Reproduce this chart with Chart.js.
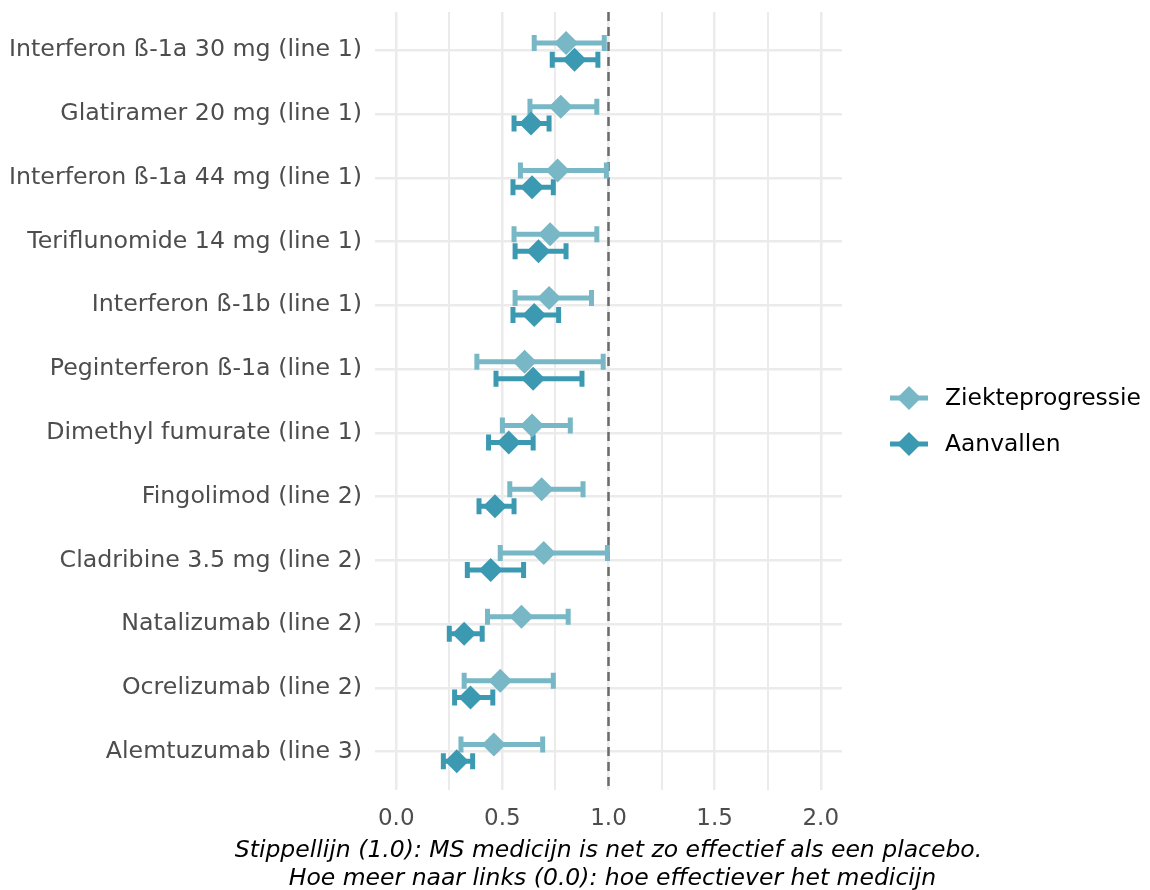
<!DOCTYPE html>
<html>
<head>
<meta charset="utf-8">
<script src="https://cdn.jsdelivr.net/npm/chart.js@4.4.1/dist/chart.umd.min.js"></script>
<style>
html, body { margin: 0; padding: 0; background: #fff; }
#wrap { width: 1150px; height: 890px; }
</style>
</head>
<body>
<div id="wrap"><canvas id="forestChart" width="1150" height="890"></canvas></div>
<script>
// medicines, top to bottom
var categories = [
    "Interferon ß-1a 30 mg (line 1)",
    "Glatiramer 20 mg (line 1)",
    "Interferon ß-1a 44 mg (line 1)",
    "Teriflunomide 14 mg (line 1)",
    "Interferon ß-1b (line 1)",
    "Peginterferon ß-1a (line 1)",
    "Dimethyl fumurate (line 1)",
    "Fingolimod (line 2)",
    "Cladribine 3.5 mg (line 2)",
    "Natalizumab (line 2)",
    "Ocrelizumab (line 2)",
    "Alemtuzumab (line 3)"
];

// Ziekteprogressie: estimate + interval
var ziekteMid  = [0.80, 0.775, 0.76, 0.725, 0.72, 0.605, 0.64, 0.685, 0.695, 0.59, 0.49, 0.46];
var ziekteLow  = [0.65, 0.63, 0.585, 0.555, 0.56, 0.38, 0.50, 0.535, 0.49, 0.43, 0.32, 0.305];
var ziekteHigh = [0.98, 0.945, 0.99, 0.945, 0.92, 0.975, 0.82, 0.88, 0.995, 0.81, 0.74, 0.69];

// Aanvallen: estimate + interval
var aanvalMid  = [0.84, 0.635, 0.64, 0.67, 0.65, 0.645, 0.53, 0.465, 0.445, 0.32, 0.35, 0.285];
var aanvalLow  = [0.735, 0.555, 0.55, 0.56, 0.55, 0.47, 0.435, 0.39, 0.335, 0.25, 0.275, 0.222];
var aanvalHigh = [0.95, 0.72, 0.74, 0.80, 0.765, 0.875, 0.645, 0.555, 0.60, 0.405, 0.455, 0.36];

var xTicks = [0, 0.25, 0.5, 0.75, 1, 1.25, 1.5, 1.75, 2];
var placeboLine = 1.0;
var seriesNames = ["Ziekteprogressie", "Aanvallen"];
var seriesColors = ["#78B7C5", "#3B9AB2"];
var captionLines = [
    "Stippellijn (1.0): MS medicijn is net zo effectief als een placebo.",
    "Hoe meer naar links (0.0): hoe effectiever het medicijn"
];

var FONT = "'DejaVu Sans', 'Liberation Sans', Arial, sans-serif";

function buildPoints(mid, low, high, shift) {
    var pts = [];
    for (var i = 0; i < mid.length; i++) {
        pts.push({ x: mid[i], y: i + 1 + shift, lo: low[i], hi: high[i] });
    }
    return pts;
}

// dashed placebo line + horizontal error bars, under the diamonds
var errorBars = {
    id: "errorBars",
    beforeDatasetsDraw: function (chart) {
        var ctx = chart.ctx;
        var xs = chart.scales.x;
        var ys = chart.scales.y;
        var area = chart.chartArea;

        ctx.save();
        ctx.strokeStyle = "#6b6b6b";
        ctx.lineWidth = 2.5;
        ctx.setLineDash([9, 6]);
        var px = xs.getPixelForValue(placeboLine);
        ctx.beginPath();
        ctx.moveTo(px, area.top);
        ctx.lineTo(px, area.bottom);
        ctx.stroke();
        ctx.restore();

        chart.data.datasets.forEach(function (ds) {
            ctx.save();
            ctx.strokeStyle = ds.backgroundColor;
            ctx.lineWidth = 5;
            ds.data.forEach(function (p) {
                var y = ys.getPixelForValue(p.y);
                var x1 = xs.getPixelForValue(p.lo);
                var x2 = xs.getPixelForValue(p.hi);
                ctx.beginPath();
                ctx.moveTo(x1, y);
                ctx.lineTo(x2, y);
                ctx.moveTo(x1, y - 8);
                ctx.lineTo(x1, y + 8);
                ctx.moveTo(x2, y - 8);
                ctx.lineTo(x2, y + 8);
                ctx.stroke();
            });
            ctx.restore();
        });
    }
};

// legend on the right (line with diamond) and the two-line caption under the axis
var extras = {
    id: "extras",
    afterDraw: function (chart) {
        var ctx = chart.ctx;
        var area = chart.chartArea;
        ctx.save();
        seriesNames.forEach(function (name, i) {
            var y = 398 + i * 46;
            ctx.strokeStyle = seriesColors[i];
            ctx.fillStyle = seriesColors[i];
            ctx.lineWidth = 5;
            ctx.beginPath();
            ctx.moveTo(890, y);
            ctx.lineTo(928, y);
            ctx.stroke();
            ctx.beginPath();
            ctx.moveTo(909 - 12, y);
            ctx.lineTo(909, y - 12);
            ctx.lineTo(909 + 12, y);
            ctx.lineTo(909, y + 12);
            ctx.closePath();
            ctx.fill();
            ctx.fillStyle = "#000";
            ctx.font = "23.4px " + FONT;
            ctx.textBaseline = "middle";
            ctx.textAlign = "left";
            ctx.fillText(name, 945, y + 1);
        });

        var cx = (area.left + area.right) / 2;
        ctx.fillStyle = "#000";
        ctx.font = "italic 23.5px " + FONT;
        ctx.textAlign = "center";
        ctx.textBaseline = "alphabetic";
        ctx.fillText(captionLines[0], cx, 857);
        ctx.fillText(captionLines[1], cx + 4, 885);
        ctx.restore();
    }
};

var ctx = document.getElementById("forestChart");
var myChart = new Chart(ctx, {
    type: "scatter",
    data: {
        datasets: [
            {
                label: seriesNames[0],
                data: buildPoints(ziekteMid, ziekteLow, ziekteHigh, -0.115),
                backgroundColor: seriesColors[0],
                borderWidth: 0,
                pointStyle: "rectRot",
                pointRadius: 12,
                pointHoverRadius: 12
            },
            {
                label: seriesNames[1],
                data: buildPoints(aanvalMid, aanvalLow, aanvalHigh, 0.15),
                backgroundColor: seriesColors[1],
                borderWidth: 0,
                pointStyle: "rectRot",
                pointRadius: 12,
                pointHoverRadius: 12
            }
        ]
    },
    options: {
        responsive: false,
        animation: false,
        devicePixelRatio: 1,
        layout: { padding: { top: 12, right: 308, left: 0, bottom: 0 } },
        plugins: {
            legend: { display: false },
            tooltip: { enabled: false }
        },
        scales: {
            x: {
                type: "linear",
                min: -0.1,
                max: 2.1,
                afterBuildTicks: function (scale) {
                    scale.ticks = xTicks.map(function (v) { return { value: v }; });
                },
                afterFit: function (scale) {
                    scale.height = 100;
                    scale.paddingLeft = 0;
                    scale.paddingRight = 0;
                },
                grid: {
                    color: "#ebebeb",
                    lineWidth: function (c) { return (c.tick && c.tick.value % 0.5 === 0) ? 2.5 : 2; },
                    drawTicks: false
                },
                border: { display: false },
                ticks: {
                    autoSkip: false,
                    maxRotation: 0,
                    padding: 15,
                    color: "#4d4d4d",
                    font: { family: FONT, size: 23 },
                    callback: function (v) { return v % 0.5 === 0 ? v.toFixed(1) : ""; }
                }
            },
            y: {
                type: "linear",
                reverse: true,
                min: 0.4,
                max: 12.6,
                afterBuildTicks: function (scale) {
                    scale.ticks = categories.map(function (c, i) { return { value: i + 1 }; });
                },
                afterFit: function (scale) {
                    scale.width = 375;
                    scale.paddingTop = 0;
                    scale.paddingBottom = 0;
                },
                grid: { color: "#ebebeb", lineWidth: 2.5, drawTicks: false },
                border: { display: false },
                ticks: {
                    autoSkip: false,
                    padding: 13,
                    color: "#4d4d4d",
                    font: { family: FONT, size: 23.7 },
                    callback: function (v) { return categories[v - 1]; }
                }
            }
        }
    },
    plugins: [errorBars, extras]
});
</script>
</body>
</html>
